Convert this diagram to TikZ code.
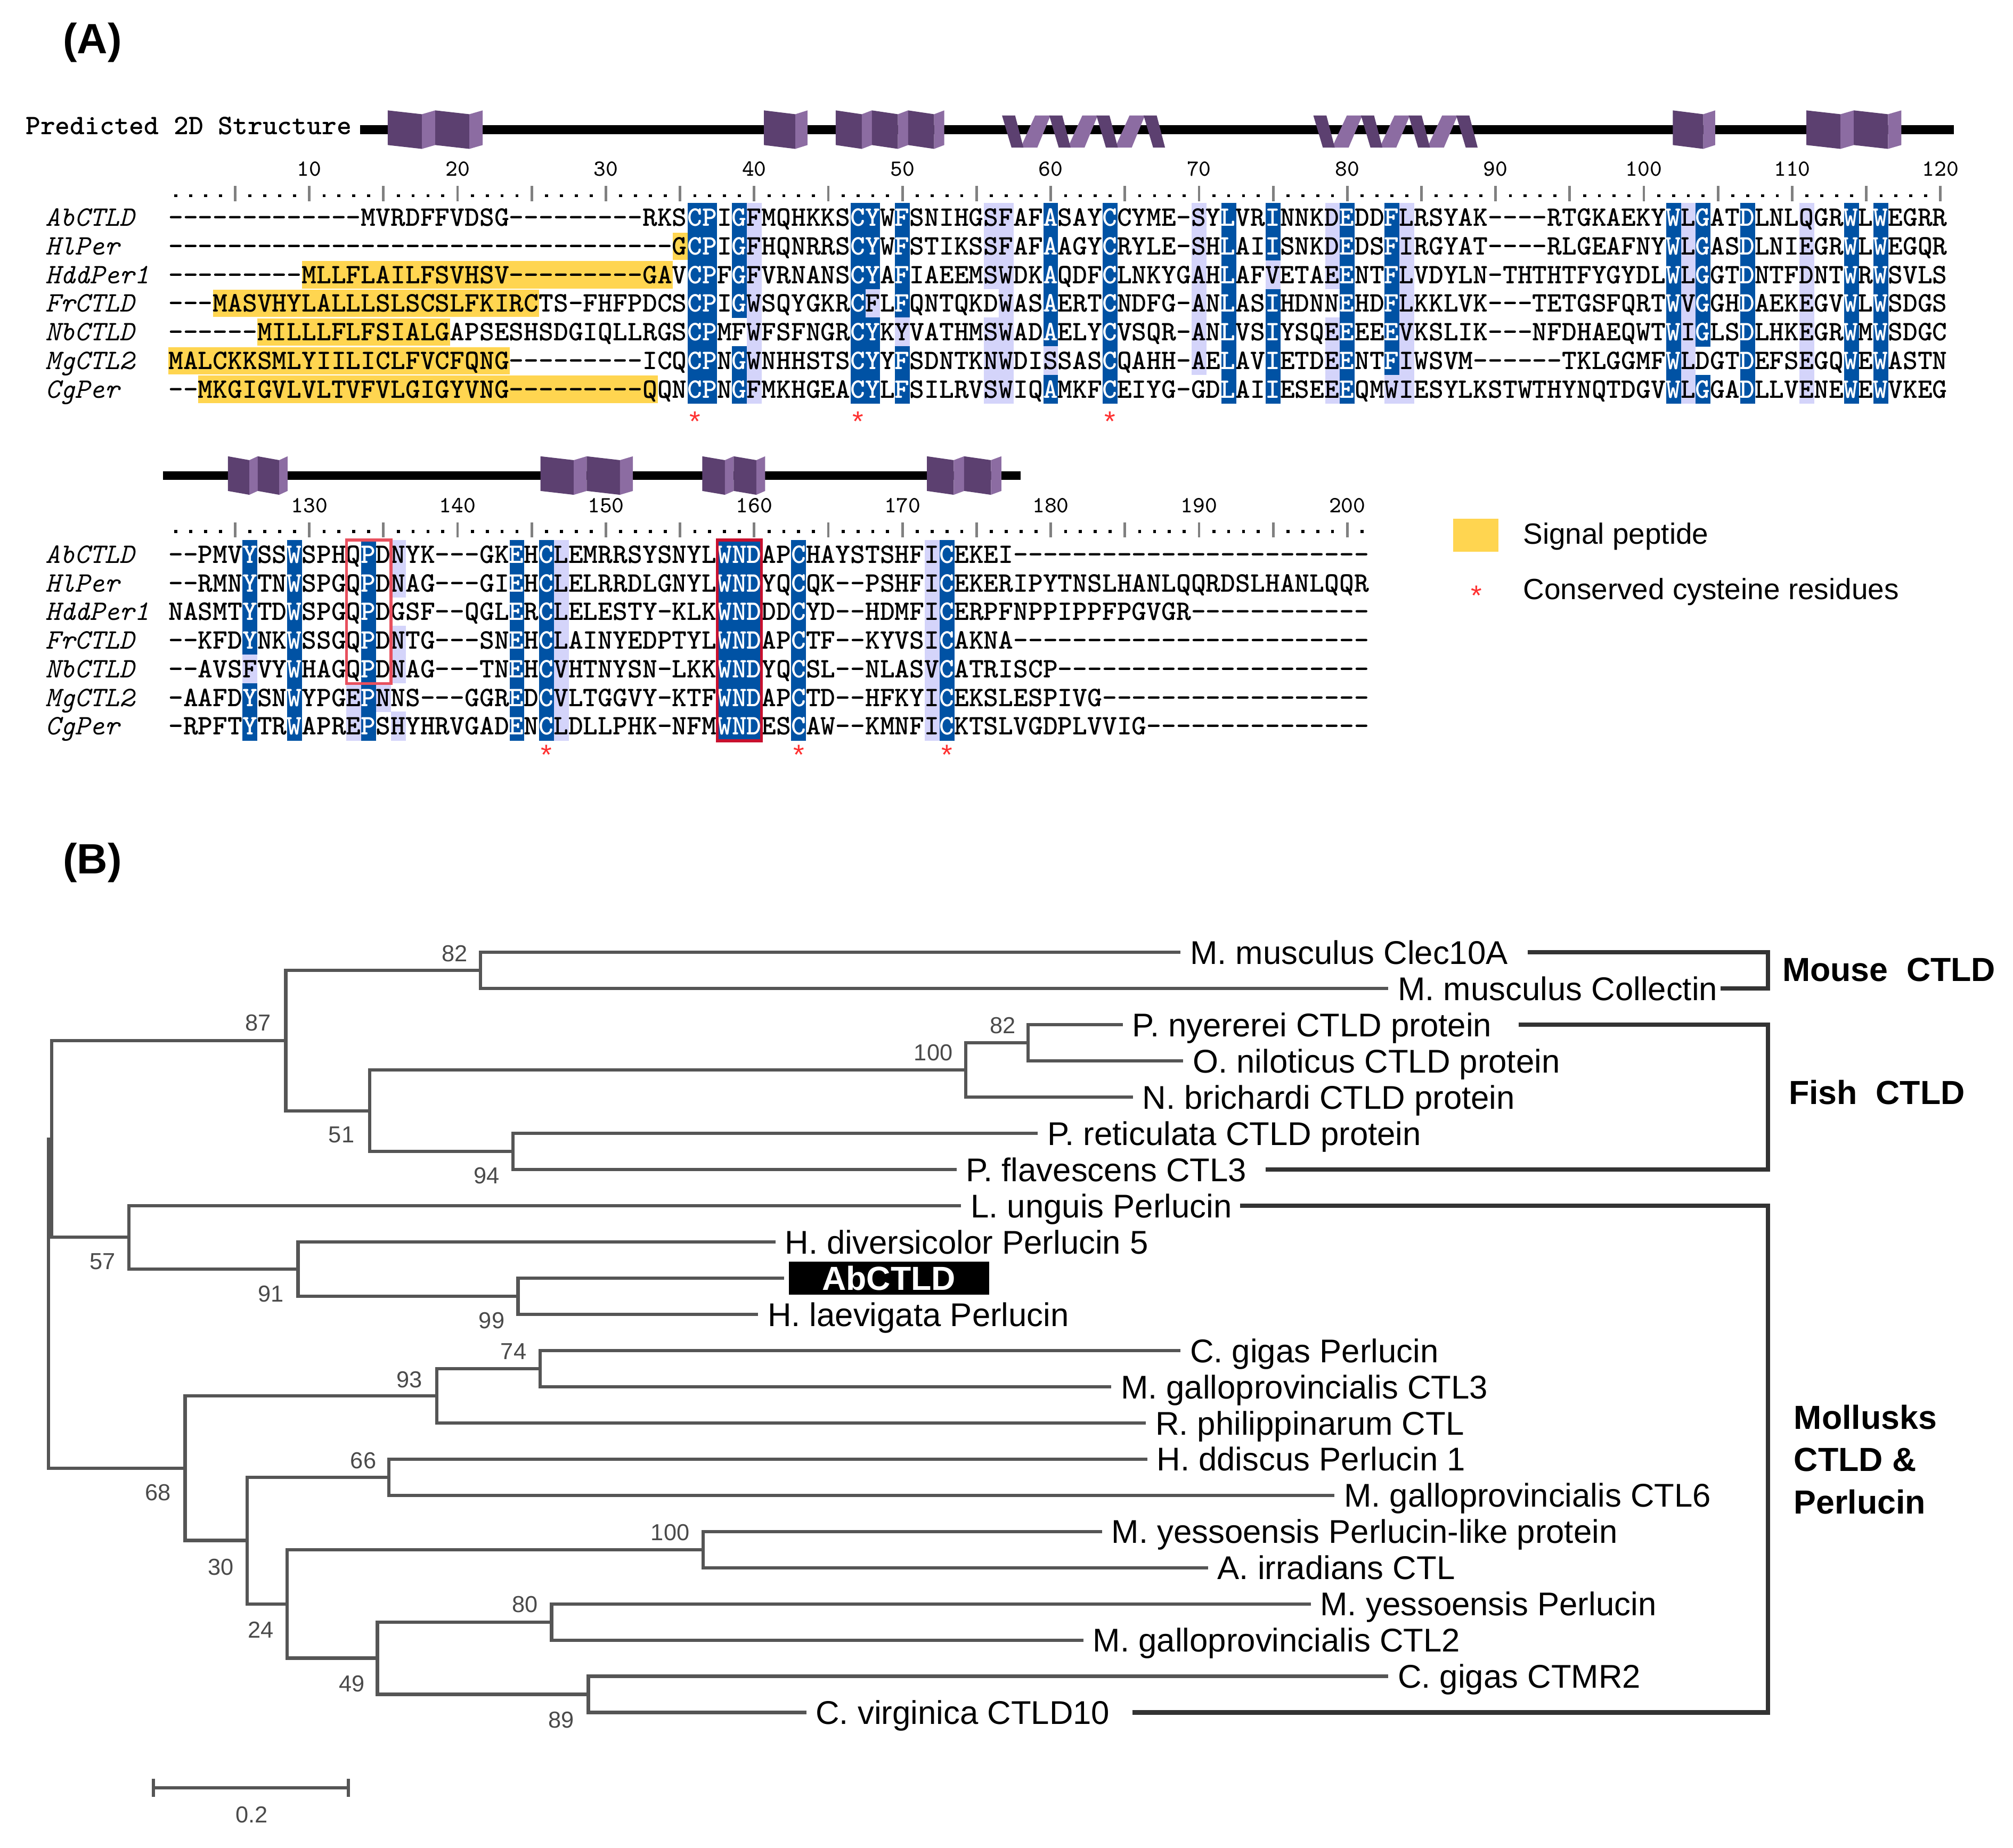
\documentclass[tikz,border=0pt]{standalone}
\usepackage{fontspec}
\newfontfamily\arialf{Liberation Sans}
\definecolor{seqblue}{HTML}{0052A4}
\definecolor{seqlav}{HTML}{D4D4FA}
\definecolor{sigyel}{HTML}{FFD550}
\definecolor{strdark}{HTML}{5C4070}
\definecolor{strlight}{HTML}{8C6CA2}
\definecolor{treegray}{HTML}{555555}
\definecolor{bsgray}{HTML}{4A4A4A}
\definecolor{brkgray}{HTML}{333333}
\definecolor{qpdred}{HTML}{E8505E}
\definecolor{wndred}{HTML}{C8102E}
\definecolor{starred}{HTML}{FF3030}
\definecolor{tickgray}{HTML}{808080}
\newcommand\seqfont{\fontsize{10.99}{11}\selectfont\ttfamily\bfseries}
\newcommand\gaps[1]{\foreach \gi in {1,...,#1}{-}}
\newcommand\wc[1]{\textcolor{white}{#1}}
\tikzset{
  seqtxt/.style={font=\seqfont, inner sep=0pt, outer sep=0pt, anchor=base west},
  nametxt/.style={font=\fontsize{10.99}{11}\selectfont\ttfamily\itshape, inner sep=0pt, anchor=base west},
  rulnum/.style={font=\fontsize{9}{10}\selectfont\ttfamily, inner sep=0pt, anchor=base},
  tickln/.style={draw=tickgray, line width=1pt},
  ssline/.style={line width=3.5pt, draw=black},
  treeline/.style={draw=treegray, line width=1.3pt},
  brk/.style={draw=brkgray, line width=1.7pt},
  leaf/.style={font=\arialf\fontsize{12.8}{14}\selectfont, inner sep=0pt, anchor=base west},
  abbox/.style={fill=black, text=white, font=\arialf\bfseries\fontsize{13}{14}\selectfont, minimum width=78pt, minimum height=13pt, inner sep=0pt},
  bs/.style={font=\arialf\fontsize{9}{10}\selectfont, text=bsgray, inner sep=0pt},
  grp/.style={font=\arialf\bfseries\fontsize{13}{14}\selectfont, inner sep=0pt, anchor=base west},
  legtxt/.style={font=\arialf\fontsize{11.4}{13}\selectfont, inner sep=0pt, anchor=base west},
  redstar/.style={font=\arialf\fontsize{11}{12}\selectfont, text=starred, inner sep=0pt, anchor=base},
  panel/.style={font=\arialf\bfseries\fontsize{16.5}{18}\selectfont, inner sep=0pt},
}
% row segment of sequence text: name, row centre y, block column, text
\newcommand\seqseg[4]{\node[seqtxt] (#1) at ({131.225+(#3-1)*11.55},{#2+6.7}) {#4};}
% signal peptide background: row y, first col, last col
\newcommand\yelrect[3]{\fill[sigyel] ({137+(#2-1)*11.55-5.775},{#1-10.6}) rectangle ({137+(#3-1)*11.55+5.775},{#1+10.6});}
% shading of alignment columns: spec, block y0, column offset
\newcommand\shadepass[3]{%
  \foreach \cc/\cells in #1 {%
    \foreach \kk/\ch [count=\rr] in \cells {%
      \if\kk b
        \fill[seqblue] ({137+(\cc-#3-1)*11.55-5.775},{#2+(\rr-1)*22.3-11.3}) rectangle ++(11.55,22.6);
      \fi
      \if\kk l
        \fill[seqlav] ({137+(\cc-#3-1)*11.55-5.775},{#2+(\rr-1)*22.3-11.3}) rectangle ++(11.55,22.6);
      \fi
    }%
  }%
}
% ruler dots: number of columns, y
\newcommand\rulerdots[2]{%
  \foreach \k in {1,...,#1}{%
    \pgfmathtruncatemacro\md{mod(\k,5)}%
    \ifnum\md>0
      \fill ({137+(\k-1)*11.55-1.2},{#2-1.2}) rectangle ++(2.4,2.4);
    \fi
  }%
}
\newcommand\strand[4]{%
  \pgfmathsetmacro\sfw{(#2-#1)/#3}%
  \foreach \si in {1,...,#3}{%
    \pgfmathsetmacro\sA{#1+(\si-1)*\sfw}%
    \pgfmathsetmacro\sB{\sA+0.72*\sfw}%
    \pgfmathsetmacro\sC{\sA+\sfw}%
    \fill[strdark] (\sA,#4-15) -- (\sB,#4-12) -- (\sB,#4+15) -- (\sA,#4+12) -- cycle;
    \fill[strlight] (\sB,#4-12) -- (\sC,#4-15) -- (\sC,#4+12) -- (\sB,#4+15) -- cycle;
  }%
}
\newcommand\helix[3]{%
  \pgfmathsetmacro\hlxp{(#2-#1-16.7)/3}%
  \foreach \hi in {0,1,2}{%
    \pgfmathsetmacro\hA{#1+\hi*\hlxp}%
    \fill[strlight] (\hA+14.5,#3+14) -- (\hA+27.5,#3+14) -- (\hA+\hlxp+1,#3-11) -- (\hA+\hlxp-11,#3-11) -- cycle;
  }%
  \foreach \hi in {0,...,3}{%
    \pgfmathsetmacro\hA{#1+\hi*\hlxp}%
    \fill[strdark] (\hA,#3-11) -- (\hA+10.2,#3-11) -- (\hA+16.7,#3+14) -- (\hA+7.4,#3+14) -- cycle;
  }%
}
\def\topspec{36/{b/C,b/C,b/C,b/C,b/C,b/C,b/C},37/{b/P,b/P,b/P,b/P,b/P,b/P,b/P},39/{b/G,b/G,b/G,b/G,n/F,b/G,b/G},40/{l/F,l/F,l/F,l/W,l/W,l/W,l/F},47/{b/C,b/C,b/C,b/C,b/C,b/C,b/C},48/{b/Y,b/Y,b/Y,l/F,b/Y,b/Y,b/Y},50/{b/F,b/F,b/F,b/F,l/Y,b/F,b/F},56/{l/S,l/S,l/S,n/D,l/S,l/N,l/S},57/{l/F,l/F,l/W,l/W,l/W,l/W,l/W},60/{b/A,b/A,b/A,b/A,b/A,l/S,b/A},64/{b/C,b/C,b/C,b/C,b/C,b/C,b/C},70/{l/S,l/S,l/A,l/A,l/A,l/A,n/G},72/{b/L,b/L,b/L,b/L,b/L,b/L,b/L},75/{b/I,b/I,l/V,b/I,b/I,b/I,b/I},79/{l/D,l/D,l/E,n/N,l/E,l/E,l/E},80/{b/E,b/E,b/E,b/E,b/E,b/E,b/E},83/{b/F,b/F,b/F,b/F,b/E,b/F,l/W},84/{l/L,l/I,l/L,l/L,l/V,l/I,l/I},102/{b/W,b/W,b/W,b/W,b/W,b/W,b/W},103/{l/L,l/L,l/L,l/V,l/I,l/L,l/L},104/{b/G,b/G,b/G,b/G,b/G,n/D,b/G},107/{b/D,b/D,b/D,b/D,b/D,b/D,b/D},111/{l/Q,l/E,l/D,l/E,l/E,l/E,l/E},114/{b/W,b/W,b/W,b/W,b/W,b/W,b/W},116/{b/W,b/W,b/W,b/W,b/W,b/W,b/W}}
\def\botspec{126/{b/Y,b/Y,b/Y,b/Y,l/F,b/Y,b/Y},129/{b/W,b/W,b/W,b/W,b/W,b/W,b/W},133/{n/Q,n/Q,n/Q,n/Q,n/Q,l/E,l/E},134/{b/P,b/P,b/P,b/P,b/P,b/P,b/P},135/{n/D,n/D,n/D,n/D,n/D,l/N,n/S},136/{l/N,l/N,n/G,l/N,l/N,n/N,l/H},144/{b/E,b/E,b/E,b/E,b/E,b/E,b/E},146/{b/C,b/C,b/C,b/C,b/C,b/C,b/C},147/{l/L,l/L,l/L,l/L,l/V,l/V,l/L},158/{b/W,b/W,b/W,b/W,b/W,b/W,b/W},159/{b/N,b/N,b/N,b/N,b/N,b/N,b/N},160/{b/D,b/D,b/D,b/D,b/D,b/D,b/D},163/{b/C,b/C,b/C,b/C,b/C,b/C,b/C},172/{l/I,l/I,l/I,l/I,l/V,l/I,l/I},173/{b/C,b/C,b/C,b/C,b/C,b/C,b/C}}

\begin{document}
\begin{tikzpicture}[x=0.5pt,y=-0.5pt]
\useasboundingbox (0,0) rectangle (1568,1439.4);
\fill[white] (0,0) rectangle (1568,1439.4);

% ---------------- panel labels
\node[panel] (pA) at (72,33) {(A)};
\node[panel] (pB) at (72,672) {(B)};

% ---------------- predicted secondary structure
\node[seqtxt] (p2d) at (20,104.7) {Predicted 2D Structure};
\draw[ssline] (280.5,101) -- (1522,101);
\strand{302}{376}{2}{101}
\strand{595}{629}{1}{101}
\strand{651}{735.5}{3}{101}
\strand{1303}{1336}{1}{101}
\strand{1407}{1481}{2}{101}
\helix{780.5}{907.5}{101}
\helix{1023}{1151}{101}
\draw[ssline] (127,370.5) -- (795,370.5);
\strand{177.5}{224}{2}{370.5}
\strand{421}{493}{2}{370.5}
\strand{547}{596}{2}{370.5}
\strand{722}{780}{2}{370.5}

% ---------------- rulers
\foreach \k in {10,20,...,120} \node[rulnum] (rt\k) at ({137+(\k-1)*11.55},137) {\k};
\rulerdots{120}{152.5}
\foreach \k in {5,10,...,120} \draw[tickln] ({137+(\k-1)*11.55},145) -- ({137+(\k-1)*11.55},157);
\foreach \k in {130,140,...,200} \node[rulnum] (rb\k) at ({137+(\k-121)*11.55},399.5) {\k};
\rulerdots{81}{414}
\foreach \k in {5,10,...,80} \draw[tickln] ({137+(\k-1)*11.55},407) -- ({137+(\k-1)*11.55},418.5);

% ---------------- backgrounds (shading, signal peptide)
\shadepass{\topspec}{169.5}{0}
\shadepass{\botspec}{432}{120}
\yelrect{191.8}{35}{35}
\yelrect{214.1}{10}{34}
\yelrect{236.4}{4}{25}
\yelrect{258.7}{7}{19}
\yelrect{281.0}{1}{23}
\yelrect{303.3}{3}{33}

% ---------------- sequence names
\foreach \nm/\yy/\tx in {1/169.5/AbCTLD,2/191.8/HlPer,3/214.1/HddPer1,4/236.4/FrCTLD,5/258.7/NbCTLD,6/281.0/MgCTL2,7/303.3/CgPer}
  \node[nametxt] (nt\nm) at (35,\yy+6.7) {\tx};
\foreach \nm/\yy/\tx in {1/432/AbCTLD,2/454.3/HlPer,3/476.6/HddPer1,4/498.9/FrCTLD,5/521.2/NbCTLD,6/543.5/MgCTL2,7/565.8/CgPer}
  \node[nametxt] (nb\nm) at (35,\yy+6.7) {\tx};

% ---------------- top block sequences (1-120)
\seqseg{s1a}{169.5}{1}{\gaps{13}MVRDFFVDSG\gaps{9}RKS}
\seqseg{s1b}{169.5}{36}{\wc{C}\wc{P}I\wc{G}FMQHKKS\wc{C}\wc{Y}W\wc{F}SNIHGSFAF\wc{A}SAY\wc{C}CYME-SY\wc{L}VR\wc{I}NNKD\wc{E}}
\seqseg{s1c}{169.5}{81}{DD\wc{F}LRSYAK\gaps{4}RTGKAEKY\wc{W}L\wc{G}AT\wc{D}LNLQGR\wc{W}L\wc{W}EGRR}
\seqseg{s2a}{191.8}{1}{\gaps{34}G}
\seqseg{s2b}{191.8}{36}{\wc{C}\wc{P}I\wc{G}FHQNRRS\wc{C}\wc{Y}W\wc{F}STIKSSFAF\wc{A}AGY\wc{C}RYLE-SH\wc{L}AI\wc{I}SNKD\wc{E}}
\seqseg{s2c}{191.8}{81}{DS\wc{F}IRGYAT\gaps{4}RLGEAFNY\wc{W}L\wc{G}AS\wc{D}LNIEGR\wc{W}L\wc{W}EGQR}
\seqseg{s3a}{214.1}{1}{\gaps{9}MLLFLAILFSVHSV\gaps{9}GAV}
\seqseg{s3b}{214.1}{36}{\wc{C}\wc{P}F\wc{G}FVRNANS\wc{C}\wc{Y}A\wc{F}IAEEMSWDK\wc{A}QDF\wc{C}LNKYGAH\wc{L}AFVETAE\wc{E}}
\seqseg{s3c}{214.1}{81}{NT\wc{F}LVDYLN-THTHTFYGYDL\wc{W}L\wc{G}GT\wc{D}NTFDNT\wc{W}R\wc{W}SVLS}
\seqseg{s4a}{236.4}{1}{\gaps{3}MASVHYLALLLSLSCSLFKIRCTS-FHFPDCS}
\seqseg{s4b}{236.4}{36}{\wc{C}\wc{P}I\wc{G}WSQYGKR\wc{C}FL\wc{F}QNTQKDWAS\wc{A}ERT\wc{C}NDFG-AN\wc{L}AS\wc{I}HDNN\wc{E}}
\seqseg{s4c}{236.4}{81}{HD\wc{F}LKKLVK\gaps{3}TETGSFQRT\wc{W}V\wc{G}GH\wc{D}AEKEGV\wc{W}L\wc{W}SDGS}
\seqseg{s5a}{258.7}{1}{\gaps{6}MILLLFLFSIALGAPSESHSDGIQLLRGS}
\seqseg{s5b}{258.7}{36}{\wc{C}\wc{P}MFWFSFNGR\wc{C}\wc{Y}KYVATHMSWAD\wc{A}ELY\wc{C}VSQR-AN\wc{L}VS\wc{I}YSQE\wc{E}}
\seqseg{s5c}{258.7}{81}{EE\wc{E}VKSLIK\gaps{3}NFDHAEQWT\wc{W}I\wc{G}LS\wc{D}LHKEGR\wc{W}M\wc{W}SDGC}
\seqseg{s6a}{281.0}{1}{MALCKKSMLYIILICLFVCFQNG\gaps{9}ICQ}
\seqseg{s6b}{281.0}{36}{\wc{C}\wc{P}N\wc{G}WNHHSTS\wc{C}\wc{Y}Y\wc{F}SDNTKNWDISSAS\wc{C}QAHH-AE\wc{L}AV\wc{I}ETDE\wc{E}}
\seqseg{s6c}{281.0}{81}{NT\wc{F}IWSVM\gaps{6}TKLGGMF\wc{W}LDGT\wc{D}EFSEGQ\wc{W}E\wc{W}ASTN}
\seqseg{s7a}{303.3}{1}{\gaps{2}MKGIGVLVLTVFVLGIGYVNG\gaps{9}QQN}
\seqseg{s7b}{303.3}{36}{\wc{C}\wc{P}N\wc{G}FMKHGEA\wc{C}\wc{Y}L\wc{F}SILRVSWIQ\wc{A}MKF\wc{C}EIYG-GD\wc{L}AI\wc{I}ESEE\wc{E}}
\seqseg{s7c}{303.3}{81}{QMWIESYLKSTWTHYNQTDGV\wc{W}L\wc{G}GA\wc{D}LLVENE\wc{W}E\wc{W}VKEG}

% ---------------- bottom block sequences (121-201)
\seqseg{b1a}{432}{1}{\gaps{2}PMV\wc{Y}SS\wc{W}SPHQ\wc{P}DNYK\gaps{3}GK\wc{E}H\wc{C}LEMRRSYSNYL}
\seqseg{b1b}{432}{38}{\wc{W}\wc{N}\wc{D}AP\wc{C}HAYSTSHFI\wc{C}EKEI\gaps{24}}
\seqseg{b2a}{454.3}{1}{\gaps{2}RMN\wc{Y}TN\wc{W}SPGQ\wc{P}DNAG\gaps{3}GI\wc{E}H\wc{C}LELRRDLGNYL}
\seqseg{b2b}{454.3}{38}{\wc{W}\wc{N}\wc{D}YQ\wc{C}QK\gaps{2}PSHFI\wc{C}EKERIPYTNSLHANLQQRDSLHANLQQR}
\seqseg{b3a}{476.6}{1}{NASMT\wc{Y}TD\wc{W}SPGQ\wc{P}DGSF\gaps{2}QGL\wc{E}R\wc{C}LELESTY-KLK}
\seqseg{b3b}{476.6}{38}{\wc{W}\wc{N}\wc{D}DD\wc{C}YD\gaps{2}HDMFI\wc{C}ERPFNPPIPPFPGVGR\gaps{12}}
\seqseg{b4a}{498.9}{1}{\gaps{2}KFD\wc{Y}NK\wc{W}SSGQ\wc{P}DNTG\gaps{3}SN\wc{E}H\wc{C}LAINYEDPTYL}
\seqseg{b4b}{498.9}{38}{\wc{W}\wc{N}\wc{D}AP\wc{C}TF\gaps{2}KYVSI\wc{C}AKNA\gaps{24}}
\seqseg{b5a}{521.2}{1}{\gaps{2}AVSFVY\wc{W}HAGQ\wc{P}DNAG\gaps{3}TN\wc{E}H\wc{C}VHTNYSN-LKK}
\seqseg{b5b}{521.2}{38}{\wc{W}\wc{N}\wc{D}YQ\wc{C}SL\gaps{2}NLASV\wc{C}ATRISCP\gaps{21}}
\seqseg{b6a}{543.5}{1}{-AAFD\wc{Y}SN\wc{W}YPGE\wc{P}NNS\gaps{3}GGR\wc{E}D\wc{C}VLTGGVY-KTF}
\seqseg{b6b}{543.5}{38}{\wc{W}\wc{N}\wc{D}AP\wc{C}TD\gaps{2}HFKYI\wc{C}EKSLESPIVG\gaps{18}}
\seqseg{b7a}{565.8}{1}{-RPFT\wc{Y}TR\wc{W}APRE\wc{P}SHYHRVGAD\wc{E}N\wc{C}LDLLPHK-NFM}
\seqseg{b7b}{565.8}{38}{\wc{W}\wc{N}\wc{D}ES\wc{C}AW\gaps{2}KMNFI\wc{C}KTSLVGDPLVVIG\gaps{15}}

% motif boxes
\draw[qpdred, line width=1.1pt] (269.8,420.7) rectangle (304.5,532.5);
\draw[wndred, line width=1.1pt] (558.6,420.7) rectangle (593.2,577.1);

% conserved cysteines
\foreach \nm/\xx in {1/541.25,2/668.3,3/864.65} \node[redstar] (st\nm) at (\xx,335.7) {*};
\foreach \nm/\xx in {4/425.75,5/622.1,6/737.6} \node[redstar] (st\nm) at (\xx,595.7) {*};

% legend
\fill[sigyel] (1132,404) rectangle (1167,430);
\node[legtxt] (lg1) at (1186,424) {Signal peptide};
\node[redstar] (lgs) at (1150,471.7) {*};
\node[legtxt] (lg2) at (1186,467.2) {Conserved cysteine residues};

% ================= phylogenetic tree =================
\coordinate (root) at (37.7,1015.6);
\coordinate (nA) at (40.2,887.4);
\coordinate (n87) at (222.6,810.7);
\coordinate (n82m) at (374.4,756.1);
\coordinate (n51) at (288,865.4);
\coordinate (n100f) at (752.3,833.6);
\coordinate (n82f) at (800.8,812.5);
\coordinate (n94) at (399.5,897.1);
\coordinate (n57) at (100.5,964.0);
\coordinate (n91) at (232.2,988.7);
\coordinate (n99) at (403.5,1009.9);
\coordinate (n68) at (144.2,1143.8);
\coordinate (n93) at (340.2,1087.4);
\coordinate (n74) at (420.6,1066.3);
\coordinate (n30) at (192.5,1200.2);
\coordinate (n66) at (303,1150.9);
\coordinate (n24) at (223.6,1249.6);
\coordinate (n100b) at (547.7,1207.3);
\coordinate (n49) at (294,1291.9);
\coordinate (n80) at (429.6,1263.7);
\coordinate (n89) at (458.3,1320.1);
\foreach \lf/\yy/\xx in {1/742.0/919.6,2/770.2/1081.4,3/798.4/874.7,4/826.6/921.7,5/854.8/882.4,6/883.0/808.4,7/911.2/745.0,8/939.4/748.7,9/967.6/604.0,10/995.8/610.6,11/1024.0/590.5,12/1052.2/919.6,13/1080.4/865.6,14/1108.6/892.6,15/1136.8/893.6,16/1165.0/1039.5,17/1193.2/858.4,18/1221.4/941.0,19/1249.6/1021.0,20/1277.8/844.0,21/1306.0/1081.4,22/1334.2/628.0}
  \coordinate (l\lf) at (\xx,\yy);

\foreach \pa/\ch in {root/nA,root/n68,nA/n87,nA/n57,n87/n82m,n87/n51,n82m/l1,n82m/l2,n51/n100f,n51/n94,n100f/n82f,n100f/l5,n82f/l3,n82f/l4,n94/l6,n94/l7,n57/l8,n57/n91,n91/l9,n91/n99,n99/l10,n99/l11,n68/n93,n68/n30,n93/n74,n93/l14,n74/l12,n74/l13,n30/n66,n30/n24,n66/l15,n66/l16,n24/n100b,n24/n49,n100b/l17,n100b/l18,n49/n80,n49/n89,n80/l19,n80/l20,n89/l21,n89/l22}
  \draw[treeline] (\pa) |- (\ch);

\foreach \lf/\lbl in {1/M. musculus Clec10A,2/M. musculus Collectin,3/P. nyererei CTLD protein,4/O. niloticus CTLD protein,5/N. brichardi CTLD protein,6/P. reticulata CTLD protein,7/P. flavescens CTL3,8/L. unguis Perlucin,9/H. diversicolor Perlucin 5,11/H. laevigata Perlucin,12/C. gigas Perlucin,13/M. galloprovincialis CTL3,14/R. philippinarum CTL,15/H. ddiscus Perlucin 1,16/M. galloprovincialis CTL6,17/M. yessoensis Perlucin-like protein,18/A. irradians CTL,19/M. yessoensis Perlucin,20/M. galloprovincialis CTL2,21/C. gigas CTMR2,22/C. virginica CTLD10}
  \node[leaf, xshift=3.5pt, yshift=-4.6pt] (t\lf) at (l\lf) {\lbl};
\node[abbox, anchor=west, xshift=1.7pt] (t10) at (l10) {AbCTLD};

% bootstrap values
\foreach \nm/\xx/\yy/\vv in {b1/354/743/82,b2/201/797/87,b3/727/820/100,b4/781/799/82,b5/266/884/51,b6/379/916/94,b7/80/983/57,b8/211/1008/91,b9/383/1029/99,b10/400/1053/74,b11/319/1075/93,b12/123/1163/68,b13/283/1138/66,b14/172/1221/30,b15/522/1194/100,b16/203/1270/24,b17/409/1250/80,b18/274/1312/49,b19/437/1340/89}
  \node[bs] (\nm) at (\xx,\yy) {\vv};

% scale bar
\coordinate (sb1) at (119.6,1393);
\coordinate (sb2) at (271.4,1393);
\draw[treeline] (sb1) -- (sb2);
\draw[treeline] ([yshift=3.5pt]sb1) -- ([yshift=-3.5pt]sb1);
\draw[treeline] ([yshift=3.5pt]sb2) -- ([yshift=-3.5pt]sb2);
\node[bs] (sbl) at (196,1414) {0.2};

% group brackets
\coordinate (bm1) at (1190,742.0); \coordinate (bm2) at (1377,770.2); \coordinate (bm3) at (1340,770.2);
\draw[brk] (bm1) -| (bm2) -- (bm3);
\coordinate (bf1) at (1183,798.4); \coordinate (bf2) at (1377,911.2); \coordinate (bf3) at (986,911.2);
\draw[brk] (bf1) -| (bf2) -- (bf3);
\coordinate (bo1) at (966,939.4); \coordinate (bo2) at (1377,1334.2); \coordinate (bo3) at (882,1334.2);
\draw[brk] (bo1) -| (bo2) -- (bo3);
\node[grp] (gM) at (1388,764.3) {Mouse\hspace{0.55em}CTLD};
\node[grp] (gF) at (1393,860.3) {Fish\hspace{0.55em}CTLD};
\node[grp] (gO1) at (1397,1113.3) {Mollusks};
\node[grp] (gO2) at (1397,1146.3) {CTLD \&};
\node[grp] (gO3) at (1397,1179.3) {Perlucin};
\end{tikzpicture}
\end{document}
